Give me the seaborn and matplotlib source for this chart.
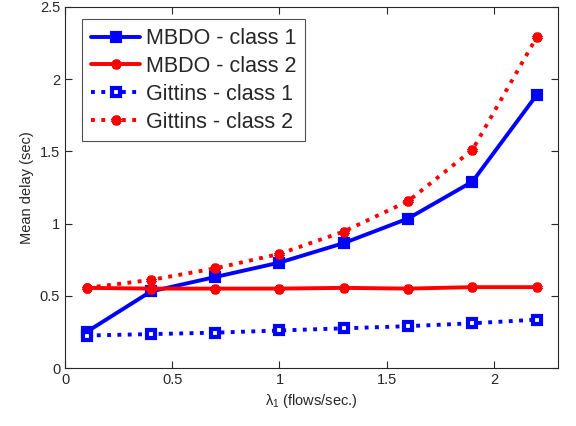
import numpy as np
import pandas as pd
import seaborn as sns
import matplotlib
matplotlib.use("Agg")
import matplotlib.pyplot as plt

# data
lam = [0.1, 0.4, 0.7, 1.0, 1.3, 1.6, 1.9, 2.2]
mbdo_c1 = [0.25, 0.53, 0.63, 0.73, 0.865, 1.035, 1.29, 1.89]
mbdo_c2 = [0.555, 0.55, 0.55, 0.55, 0.555, 0.55, 0.56, 0.56]
gitt_c1 = [0.225, 0.235, 0.245, 0.26, 0.275, 0.29, 0.31, 0.335]
gitt_c2 = [0.555, 0.61, 0.69, 0.79, 0.945, 1.155, 1.51, 2.29]
names = ["MBDO - class 1", "MBDO - class 2", "Gittins - class 1", "Gittins - class 2"]

sns.set_style("ticks")
plt.rcParams['font.family'] = ['Liberation Sans', 'DejaVu Sans']
plt.rcParams['mathtext.fontset'] = 'custom'
plt.rcParams['mathtext.rm'] = 'Liberation Sans'
plt.rcParams['mathtext.it'] = 'Liberation Sans'

fig = plt.figure(figsize=(5.76, 4.26), dpi=100)
ax = fig.add_axes([0.113, 0.136, 0.856, 0.848])

series = [mbdo_c1, mbdo_c2, gitt_c1, gitt_c2]
colors = ["#0000ff", "#ff0000", "#0000ff", "#ff0000"]
styles = ["-", "-", ":", ":"]
markers = ["s", (6, 2, 0), "s", (6, 2, 0)]
msizes = [6, 7, 6, 7]
faces = ["#0000ff", "#ff0000", "white", "#ff0000"]

for vals, name, c, ls, m, ms, fc in zip(series, names, colors, styles, markers, msizes, faces):
    df = pd.DataFrame({"x": lam, "y": vals})
    sns.lineplot(data=df, x="x", y="y", ax=ax, color=c, linestyle=ls, linewidth=2.8,
                 marker=m, markersize=ms, markerfacecolor=fc, markeredgecolor=c,
                 markeredgewidth=3, label=name)

ax.set_xlim(0, 2.3)
ax.set_ylim(0, 2.5)
ax.set_xticks([0, 0.5, 1, 1.5, 2])
ax.set_xticklabels(["0", "0.5", "1", "1.5", "2"])
ax.set_yticks([0, 0.5, 1, 1.5, 2, 2.5])
ax.set_yticklabels(["0", "0.5", "1", "1.5", "2", "2.5"])
ax.tick_params(direction="in", labelsize=10.5, length=5, width=0.8, color="#262626",
               top=True, right=True, labelcolor="#262626")
for s in ax.spines.values():
    s.set_linewidth(0.8)
    s.set_color("#262626")
ax.set_xlabel(r"$\lambda_1$ (flows/sec.)", fontsize=10.5, color="#262626")
ax.set_ylabel("Mean delay (sec)", fontsize=10.5, color="#262626")

leg = ax.legend(loc="upper left", fontsize=15.5, frameon=True, fancybox=False,
                edgecolor="#262626", handlelength=2.3, borderpad=0.4, labelspacing=0.32,
                handletextpad=0.25, borderaxespad=0, bbox_to_anchor=(0.035, 0.965))
leg.get_frame().set_linewidth(0.8)

fig.savefig("out.png", dpi=100)
